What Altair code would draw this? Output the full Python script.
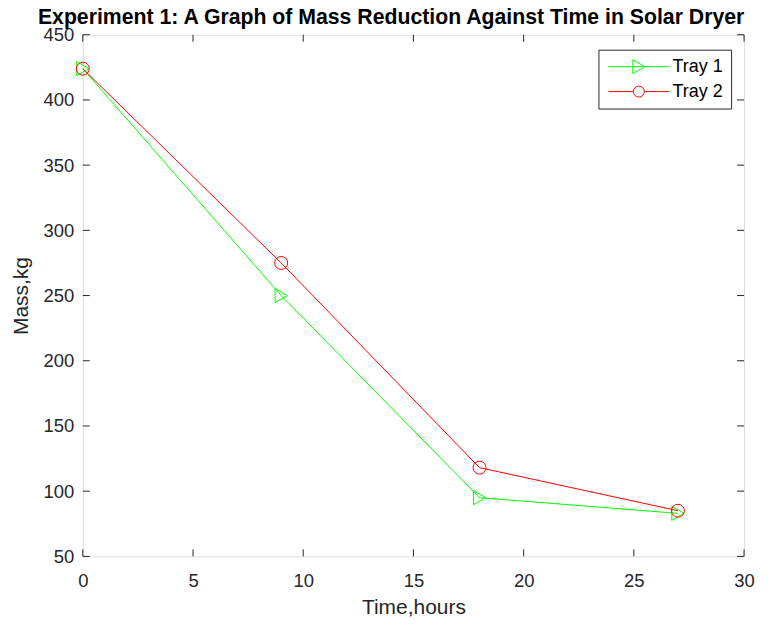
import altair as alt
import pandas as pd

# ---- data ----
time_hours = [0, 9, 18, 27]
tray1_mass = [424, 250, 95, 83]
tray2_mass = [424, 275, 118, 85]
series_names = ["Tray 1", "Tray 2"]
series_colors = ["#00ff00", "#ff0000"]
x_ticks = [0, 5, 10, 15, 20, 25, 30]
y_ticks = [50, 100, 150, 200, 250, 300, 350, 400, 450]

W, H = 663, 523
FONT = "Liberation Sans"
AX = "#262626"

df = pd.DataFrame({
    "time": time_hours * 2,
    "mass": tray1_mass + tray2_mass,
    "series": [series_names[0]] * len(time_hours) + [series_names[1]] * len(time_hours),
})
xt = pd.DataFrame({"v": x_ticks})
yt = pd.DataFrame({"v": y_ticks})

xscale = alt.Scale(domain=[0, 30], nice=False, zero=False)
yscale = alt.Scale(domain=[50, 450], nice=False, zero=False)
cscale = alt.Scale(domain=series_names, range=series_colors)

# legend symbol paths (unit = 5 px at symbolSize 100): line + marker
tri_path = "M-6.1,0H6.1M1.21,0L-1.21,-1.4L-1.21,1.4Z"
circ_path = "M-6.1,0H-1.1M1.1,0H6.1M-1.1,0A1.1,1.1,0,1,1,1.1,0A1.1,1.1,0,1,1,-1.1,0"
sscale = alt.Scale(domain=series_names, range=[tri_path, circ_path])

def make_legend():
    return alt.Legend(
        orient="none", legendX=517, legendY=15, title=None,
        symbolSize=100, symbolStrokeWidth=1, symbolOffset=23.5, labelOffset=24.7,
        symbolOpacity=1, symbolFillColor="transparent",
        labelFont=FONT, labelFontSize=18, labelColor="#000000",
        padding=8, rowPadding=7, strokeColor=AX, fillColor="white",
    )

x_axis = alt.Axis(values=x_ticks, title="Time,hours", ticks=False, tickSize=0, domain=False,
                  grid=False, labelFont=FONT, labelFontSize=18.5, labelColor=AX,
                  labelPadding=30, labelBaseline="alphabetic", labelFlush=False, labelOverlap=False,
                  titleFont=FONT, titleFontSize=21, titleFontWeight="normal", titleColor=AX,
                  titleBaseline="alphabetic", titleY=57, titleX=W / 2)
y_axis = alt.Axis(values=y_ticks, title="Mass,kg", ticks=False, tickSize=0, domain=False,
                  grid=False, labelFont=FONT, labelFontSize=18.5, labelColor=AX,
                  labelPadding=9, labelFlush=False, labelOverlap=False,
                  titleFont=FONT, titleFontSize=21, titleFontWeight="normal", titleColor=AX,
                  titleAngle=270, titleBaseline="alphabetic", titleAlign="center",
                  titleX=-55, titleY=H / 2)

lines = alt.Chart(df).mark_line(strokeWidth=1).encode(
    x=alt.X("time:Q", scale=xscale, axis=x_axis),
    y=alt.Y("mass:Q", scale=yscale, axis=y_axis),
    color=alt.Color("series:N", scale=cscale, legend=make_legend()),
)
pts1 = alt.Chart(df).transform_filter(alt.datum.series == series_names[0]).mark_point(
    filled=False, strokeWidth=1, opacity=1, shape="triangle-right", size=200).encode(
    x="time:Q", y="mass:Q", color=alt.Color("series:N", scale=cscale, legend=None))
pts2 = alt.Chart(df).transform_filter(alt.datum.series == series_names[1]).mark_point(
    filled=False, strokeWidth=1, opacity=1, shape="circle", size=169).encode(
    x="time:Q", y="mass:Q", color=alt.Color("series:N", scale=cscale, legend=None))
# invisible layer carrying the legend symbols (line + marker)
leg = alt.Chart(df).mark_point(filled=False, strokeWidth=1, opacity=0).encode(
    x="time:Q", y="mass:Q",
    color=alt.Color("series:N", scale=cscale, legend=make_legend()),
    shape=alt.Shape("series:N", scale=sscale, legend=make_legend()),
)

TL = 7
xb = alt.Chart(xt).mark_rule(color=AX, strokeWidth=1).encode(
    x=alt.X("v:Q", scale=xscale), y=alt.value(H), y2=alt.value(H - TL))
xtop = alt.Chart(xt).mark_rule(color=AX, strokeWidth=1).encode(
    x=alt.X("v:Q", scale=xscale), y=alt.value(0), y2=alt.value(TL))
yl = alt.Chart(yt).mark_rule(color=AX, strokeWidth=1).encode(
    y=alt.Y("v:Q", scale=yscale), x=alt.value(0), x2=alt.value(TL))
yr = alt.Chart(yt).mark_rule(color=AX, strokeWidth=1).encode(
    y=alt.Y("v:Q", scale=yscale), x=alt.value(W), x2=alt.value(W - TL))

chart = alt.layer(xb, xtop, yl, yr, leg, lines, pts1, pts2).properties(
    width=W, height=H,
    title=alt.TitleParams(
        "Experiment 1: A Graph of Mass Reduction Against Time in Solar Dryer",
        font=FONT, fontSize=21.3, fontWeight="bold", color="#000000",
        anchor="start", frame="group", dx=-45, offset=-3),
    autosize=alt.AutoSizeParams(type="none"),
    padding={"left": 75, "top": 26, "right": 20, "bottom": 66},
).configure_view(stroke=AX, strokeWidth=1.5).configure(background="white")

chart.save("out.html", embed_options={"renderer": "svg", "actions": False})
